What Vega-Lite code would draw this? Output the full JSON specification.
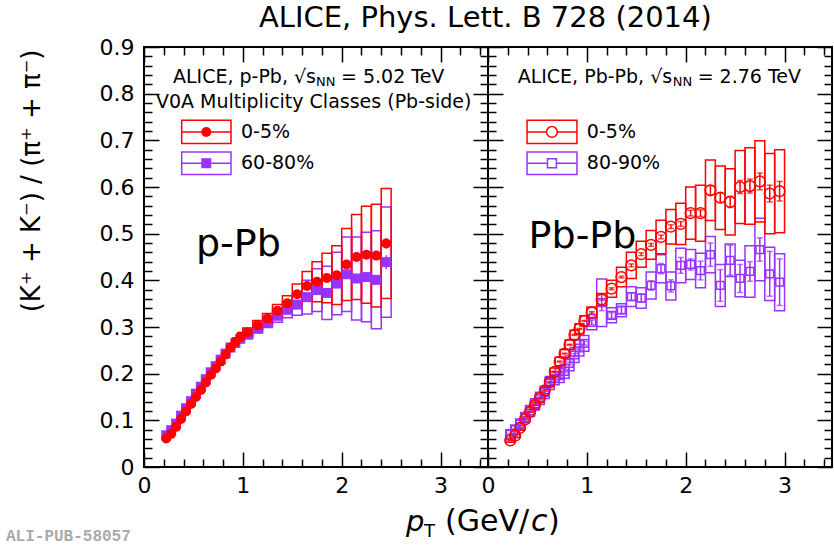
{
  "$schema": "https://vega.github.io/schema/vega-lite/v6.json",
  "background": "white",
  "padding": {"left": 5, "top": 4, "right": 0, "bottom": 0},
  "title": {"text": "ALICE, Phys. Lett. B 728 (2014)", "font": "DejaVu Sans", "fontSize": 29, "fontWeight": "normal", "color": "black", "anchor": "middle", "frame": "bounds", "dx": 66, "offset": 2},
  "spacing": 0,
  "bounds": "flush",
  "datasets": {
    "pPb": [
      {"cls":"60-80%","pt":0.225,"lo":0.2,"hi":0.25,"y":0.068,"stat":0.001,"ylo":0.065,"yhi":0.071},
      {"cls":"60-80%","pt":0.275,"lo":0.25,"hi":0.3,"y":0.079,"stat":0.001,"ylo":0.076,"yhi":0.082},
      {"cls":"60-80%","pt":0.325,"lo":0.3,"hi":0.35,"y":0.093,"stat":0.001,"ylo":0.089,"yhi":0.097},
      {"cls":"60-80%","pt":0.375,"lo":0.35,"hi":0.4,"y":0.110,"stat":0.001,"ylo":0.106,"yhi":0.114},
      {"cls":"60-80%","pt":0.425,"lo":0.4,"hi":0.45,"y":0.126,"stat":0.001,"ylo":0.121,"yhi":0.131},
      {"cls":"60-80%","pt":0.475,"lo":0.45,"hi":0.5,"y":0.141,"stat":0.001,"ylo":0.136,"yhi":0.146},
      {"cls":"60-80%","pt":0.525,"lo":0.5,"hi":0.55,"y":0.157,"stat":0.001,"ylo":0.151,"yhi":0.163},
      {"cls":"60-80%","pt":0.575,"lo":0.55,"hi":0.6,"y":0.172,"stat":0.001,"ylo":0.166,"yhi":0.178},
      {"cls":"60-80%","pt":0.625,"lo":0.6,"hi":0.65,"y":0.188,"stat":0.001,"ylo":0.181,"yhi":0.195},
      {"cls":"60-80%","pt":0.675,"lo":0.65,"hi":0.7,"y":0.203,"stat":0.001,"ylo":0.196,"yhi":0.210},
      {"cls":"60-80%","pt":0.725,"lo":0.7,"hi":0.75,"y":0.216,"stat":0.001,"ylo":0.209,"yhi":0.223},
      {"cls":"60-80%","pt":0.775,"lo":0.75,"hi":0.8,"y":0.230,"stat":0.001,"ylo":0.222,"yhi":0.238},
      {"cls":"60-80%","pt":0.825,"lo":0.8,"hi":0.85,"y":0.243,"stat":0.001,"ylo":0.235,"yhi":0.251},
      {"cls":"60-80%","pt":0.875,"lo":0.85,"hi":0.9,"y":0.256,"stat":0.001,"ylo":0.248,"yhi":0.264},
      {"cls":"60-80%","pt":0.925,"lo":0.9,"hi":0.95,"y":0.266,"stat":0.001,"ylo":0.257,"yhi":0.275},
      {"cls":"60-80%","pt":0.975,"lo":0.95,"hi":1.0,"y":0.275,"stat":0.001,"ylo":0.266,"yhi":0.284},
      {"cls":"60-80%","pt":1.05,"lo":1.0,"hi":1.1,"y":0.284,"stat":0.002,"ylo":0.275,"yhi":0.293},
      {"cls":"60-80%","pt":1.15,"lo":1.1,"hi":1.2,"y":0.297,"stat":0.002,"ylo":0.287,"yhi":0.307},
      {"cls":"60-80%","pt":1.25,"lo":1.2,"hi":1.3,"y":0.310,"stat":0.002,"ylo":0.299,"yhi":0.321},
      {"cls":"60-80%","pt":1.35,"lo":1.3,"hi":1.4,"y":0.324,"stat":0.002,"ylo":0.310,"yhi":0.338},
      {"cls":"60-80%","pt":1.45,"lo":1.4,"hi":1.5,"y":0.337,"stat":0.003,"ylo":0.320,"yhi":0.354},
      {"cls":"60-80%","pt":1.55,"lo":1.5,"hi":1.6,"y":0.348,"stat":0.003,"ylo":0.325,"yhi":0.371},
      {"cls":"60-80%","pt":1.65,"lo":1.6,"hi":1.7,"y":0.364,"stat":0.003,"ylo":0.328,"yhi":0.400},
      {"cls":"60-80%","pt":1.75,"lo":1.7,"hi":1.8,"y":0.379,"stat":0.004,"ylo":0.333,"yhi":0.425},
      {"cls":"60-80%","pt":1.85,"lo":1.8,"hi":1.9,"y":0.373,"stat":0.004,"ylo":0.316,"yhi":0.430},
      {"cls":"60-80%","pt":1.95,"lo":1.9,"hi":2.0,"y":0.393,"stat":0.005,"ylo":0.326,"yhi":0.460},
      {"cls":"60-80%","pt":2.05,"lo":2.0,"hi":2.1,"y":0.413,"stat":0.006,"ylo":0.333,"yhi":0.493},
      {"cls":"60-80%","pt":2.15,"lo":2.1,"hi":2.2,"y":0.404,"stat":0.007,"ylo":0.315,"yhi":0.493},
      {"cls":"60-80%","pt":2.25,"lo":2.2,"hi":2.3,"y":0.407,"stat":0.008,"ylo":0.311,"yhi":0.503},
      {"cls":"60-80%","pt":2.35,"lo":2.3,"hi":2.4,"y":0.401,"stat":0.010,"ylo":0.296,"yhi":0.506},
      {"cls":"60-80%","pt":2.45,"lo":2.4,"hi":2.5,"y":0.439,"stat":0.015,"ylo":0.321,"yhi":0.557},
      {"cls":"0-5%","pt":0.225,"lo":0.2,"hi":0.25,"y":0.061,"stat":0.001,"ylo":0.058,"yhi":0.064},
      {"cls":"0-5%","pt":0.275,"lo":0.25,"hi":0.3,"y":0.071,"stat":0.001,"ylo":0.068,"yhi":0.074},
      {"cls":"0-5%","pt":0.325,"lo":0.3,"hi":0.35,"y":0.086,"stat":0.001,"ylo":0.082,"yhi":0.090},
      {"cls":"0-5%","pt":0.375,"lo":0.35,"hi":0.4,"y":0.103,"stat":0.001,"ylo":0.099,"yhi":0.107},
      {"cls":"0-5%","pt":0.425,"lo":0.4,"hi":0.45,"y":0.119,"stat":0.001,"ylo":0.114,"yhi":0.124},
      {"cls":"0-5%","pt":0.475,"lo":0.45,"hi":0.5,"y":0.135,"stat":0.001,"ylo":0.130,"yhi":0.140},
      {"cls":"0-5%","pt":0.525,"lo":0.5,"hi":0.55,"y":0.150,"stat":0.001,"ylo":0.144,"yhi":0.156},
      {"cls":"0-5%","pt":0.575,"lo":0.55,"hi":0.6,"y":0.165,"stat":0.001,"ylo":0.159,"yhi":0.171},
      {"cls":"0-5%","pt":0.625,"lo":0.6,"hi":0.65,"y":0.181,"stat":0.001,"ylo":0.174,"yhi":0.188},
      {"cls":"0-5%","pt":0.675,"lo":0.65,"hi":0.7,"y":0.197,"stat":0.001,"ylo":0.190,"yhi":0.204},
      {"cls":"0-5%","pt":0.725,"lo":0.7,"hi":0.75,"y":0.211,"stat":0.001,"ylo":0.204,"yhi":0.218},
      {"cls":"0-5%","pt":0.775,"lo":0.75,"hi":0.8,"y":0.226,"stat":0.001,"ylo":0.218,"yhi":0.234},
      {"cls":"0-5%","pt":0.825,"lo":0.8,"hi":0.85,"y":0.241,"stat":0.001,"ylo":0.233,"yhi":0.249},
      {"cls":"0-5%","pt":0.875,"lo":0.85,"hi":0.9,"y":0.256,"stat":0.001,"ylo":0.248,"yhi":0.264},
      {"cls":"0-5%","pt":0.925,"lo":0.9,"hi":0.95,"y":0.268,"stat":0.001,"ylo":0.259,"yhi":0.277},
      {"cls":"0-5%","pt":0.975,"lo":0.95,"hi":1.0,"y":0.279,"stat":0.001,"ylo":0.270,"yhi":0.288},
      {"cls":"0-5%","pt":1.05,"lo":1.0,"hi":1.1,"y":0.289,"stat":0.001,"ylo":0.280,"yhi":0.298},
      {"cls":"0-5%","pt":1.15,"lo":1.1,"hi":1.2,"y":0.304,"stat":0.001,"ylo":0.294,"yhi":0.314},
      {"cls":"0-5%","pt":1.25,"lo":1.2,"hi":1.3,"y":0.318,"stat":0.002,"ylo":0.307,"yhi":0.329},
      {"cls":"0-5%","pt":1.35,"lo":1.3,"hi":1.4,"y":0.335,"stat":0.002,"ylo":0.322,"yhi":0.348},
      {"cls":"0-5%","pt":1.45,"lo":1.4,"hi":1.5,"y":0.351,"stat":0.002,"ylo":0.335,"yhi":0.367},
      {"cls":"0-5%","pt":1.55,"lo":1.5,"hi":1.6,"y":0.370,"stat":0.002,"ylo":0.348,"yhi":0.392},
      {"cls":"0-5%","pt":1.65,"lo":1.6,"hi":1.7,"y":0.388,"stat":0.002,"ylo":0.357,"yhi":0.419},
      {"cls":"0-5%","pt":1.75,"lo":1.7,"hi":1.8,"y":0.397,"stat":0.002,"ylo":0.354,"yhi":0.440},
      {"cls":"0-5%","pt":1.85,"lo":1.8,"hi":1.9,"y":0.405,"stat":0.003,"ylo":0.352,"yhi":0.458},
      {"cls":"0-5%","pt":1.95,"lo":1.9,"hi":2.0,"y":0.411,"stat":0.003,"ylo":0.348,"yhi":0.474},
      {"cls":"0-5%","pt":2.05,"lo":2.0,"hi":2.1,"y":0.434,"stat":0.003,"ylo":0.357,"yhi":0.511},
      {"cls":"0-5%","pt":2.15,"lo":2.1,"hi":2.2,"y":0.450,"stat":0.004,"ylo":0.359,"yhi":0.541},
      {"cls":"0-5%","pt":2.25,"lo":2.2,"hi":2.3,"y":0.455,"stat":0.005,"ylo":0.351,"yhi":0.559},
      {"cls":"0-5%","pt":2.35,"lo":2.3,"hi":2.4,"y":0.453,"stat":0.006,"ylo":0.343,"yhi":0.563},
      {"cls":"0-5%","pt":2.45,"lo":2.4,"hi":2.5,"y":0.479,"stat":0.011,"ylo":0.361,"yhi":0.597}
    ],
    "PbPb": [
      {"cls":"80-90%","pt":0.225,"lo":0.18,"hi":0.27,"y":0.070,"stat":0.002,"ylo":0.060,"yhi":0.080},
      {"cls":"80-90%","pt":0.275,"lo":0.23,"hi":0.32,"y":0.080,"stat":0.002,"ylo":0.070,"yhi":0.090},
      {"cls":"80-90%","pt":0.325,"lo":0.28,"hi":0.37,"y":0.092,"stat":0.002,"ylo":0.081,"yhi":0.103},
      {"cls":"80-90%","pt":0.375,"lo":0.33,"hi":0.42,"y":0.106,"stat":0.002,"ylo":0.095,"yhi":0.117},
      {"cls":"80-90%","pt":0.425,"lo":0.38,"hi":0.47,"y":0.120,"stat":0.002,"ylo":0.108,"yhi":0.132},
      {"cls":"80-90%","pt":0.475,"lo":0.43,"hi":0.52,"y":0.134,"stat":0.002,"ylo":0.122,"yhi":0.146},
      {"cls":"80-90%","pt":0.525,"lo":0.48,"hi":0.57,"y":0.147,"stat":0.002,"ylo":0.134,"yhi":0.160},
      {"cls":"80-90%","pt":0.575,"lo":0.53,"hi":0.62,"y":0.160,"stat":0.002,"ylo":0.147,"yhi":0.173},
      {"cls":"80-90%","pt":0.625,"lo":0.58,"hi":0.67,"y":0.180,"stat":0.002,"ylo":0.166,"yhi":0.194},
      {"cls":"80-90%","pt":0.675,"lo":0.63,"hi":0.72,"y":0.190,"stat":0.003,"ylo":0.176,"yhi":0.204},
      {"cls":"80-90%","pt":0.725,"lo":0.68,"hi":0.77,"y":0.196,"stat":0.003,"ylo":0.181,"yhi":0.211},
      {"cls":"80-90%","pt":0.775,"lo":0.73,"hi":0.82,"y":0.205,"stat":0.003,"ylo":0.190,"yhi":0.220},
      {"cls":"80-90%","pt":0.825,"lo":0.78,"hi":0.87,"y":0.222,"stat":0.003,"ylo":0.206,"yhi":0.238},
      {"cls":"80-90%","pt":0.875,"lo":0.83,"hi":0.92,"y":0.240,"stat":0.003,"ylo":0.224,"yhi":0.256},
      {"cls":"80-90%","pt":0.925,"lo":0.88,"hi":0.97,"y":0.255,"stat":0.003,"ylo":0.238,"yhi":0.272},
      {"cls":"80-90%","pt":0.975,"lo":0.93,"hi":1.02,"y":0.265,"stat":0.004,"ylo":0.248,"yhi":0.282},
      {"cls":"80-90%","pt":1.05,"lo":1.0,"hi":1.1,"y":0.310,"stat":0.005,"ylo":0.294,"yhi":0.326},
      {"cls":"80-90%","pt":1.15,"lo":1.1,"hi":1.2,"y":0.352,"stat":0.017,"ylo":0.301,"yhi":0.403},
      {"cls":"80-90%","pt":1.25,"lo":1.2,"hi":1.3,"y":0.325,"stat":0.006,"ylo":0.309,"yhi":0.341},
      {"cls":"80-90%","pt":1.35,"lo":1.3,"hi":1.4,"y":0.336,"stat":0.007,"ylo":0.322,"yhi":0.350},
      {"cls":"80-90%","pt":1.45,"lo":1.4,"hi":1.5,"y":0.365,"stat":0.008,"ylo":0.344,"yhi":0.386},
      {"cls":"80-90%","pt":1.55,"lo":1.5,"hi":1.6,"y":0.362,"stat":0.009,"ylo":0.340,"yhi":0.384},
      {"cls":"80-90%","pt":1.65,"lo":1.6,"hi":1.7,"y":0.389,"stat":0.010,"ylo":0.360,"yhi":0.418},
      {"cls":"80-90%","pt":1.75,"lo":1.7,"hi":1.8,"y":0.425,"stat":0.011,"ylo":0.395,"yhi":0.455},
      {"cls":"80-90%","pt":1.85,"lo":1.8,"hi":1.9,"y":0.388,"stat":0.013,"ylo":0.358,"yhi":0.418},
      {"cls":"80-90%","pt":1.95,"lo":1.9,"hi":2.0,"y":0.432,"stat":0.017,"ylo":0.395,"yhi":0.469},
      {"cls":"80-90%","pt":2.05,"lo":2.0,"hi":2.1,"y":0.434,"stat":0.012,"ylo":0.402,"yhi":0.466},
      {"cls":"80-90%","pt":2.15,"lo":2.1,"hi":2.2,"y":0.421,"stat":0.020,"ylo":0.384,"yhi":0.458},
      {"cls":"80-90%","pt":2.25,"lo":2.2,"hi":2.3,"y":0.455,"stat":0.025,"ylo":0.416,"yhi":0.494},
      {"cls":"80-90%","pt":2.35,"lo":2.3,"hi":2.4,"y":0.389,"stat":0.034,"ylo":0.344,"yhi":0.434},
      {"cls":"80-90%","pt":2.45,"lo":2.4,"hi":2.5,"y":0.443,"stat":0.032,"ylo":0.408,"yhi":0.478},
      {"cls":"80-90%","pt":2.55,"lo":2.5,"hi":2.6,"y":0.404,"stat":0.030,"ylo":0.365,"yhi":0.443},
      {"cls":"80-90%","pt":2.65,"lo":2.6,"hi":2.7,"y":0.419,"stat":0.021,"ylo":0.364,"yhi":0.474},
      {"cls":"80-90%","pt":2.75,"lo":2.7,"hi":2.8,"y":0.466,"stat":0.025,"ylo":0.399,"yhi":0.533},
      {"cls":"80-90%","pt":2.85,"lo":2.8,"hi":2.9,"y":0.414,"stat":0.048,"ylo":0.357,"yhi":0.471},
      {"cls":"80-90%","pt":2.95,"lo":2.9,"hi":3.0,"y":0.396,"stat":0.050,"ylo":0.335,"yhi":0.457},
      {"cls":"0-5%","pt":0.225,"lo":0.18,"hi":0.27,"y":0.057,"stat":0.001,"ylo":0.053,"yhi":0.061},
      {"cls":"0-5%","pt":0.275,"lo":0.23,"hi":0.32,"y":0.067,"stat":0.001,"ylo":0.063,"yhi":0.071},
      {"cls":"0-5%","pt":0.325,"lo":0.28,"hi":0.37,"y":0.084,"stat":0.001,"ylo":0.079,"yhi":0.089},
      {"cls":"0-5%","pt":0.375,"lo":0.33,"hi":0.42,"y":0.102,"stat":0.001,"ylo":0.097,"yhi":0.107},
      {"cls":"0-5%","pt":0.425,"lo":0.38,"hi":0.47,"y":0.118,"stat":0.001,"ylo":0.112,"yhi":0.124},
      {"cls":"0-5%","pt":0.475,"lo":0.43,"hi":0.52,"y":0.133,"stat":0.001,"ylo":0.127,"yhi":0.139},
      {"cls":"0-5%","pt":0.525,"lo":0.48,"hi":0.57,"y":0.148,"stat":0.001,"ylo":0.141,"yhi":0.155},
      {"cls":"0-5%","pt":0.575,"lo":0.53,"hi":0.62,"y":0.164,"stat":0.001,"ylo":0.157,"yhi":0.171},
      {"cls":"0-5%","pt":0.625,"lo":0.58,"hi":0.67,"y":0.182,"stat":0.001,"ylo":0.174,"yhi":0.190},
      {"cls":"0-5%","pt":0.675,"lo":0.63,"hi":0.72,"y":0.204,"stat":0.001,"ylo":0.196,"yhi":0.212},
      {"cls":"0-5%","pt":0.725,"lo":0.68,"hi":0.77,"y":0.226,"stat":0.001,"ylo":0.217,"yhi":0.235},
      {"cls":"0-5%","pt":0.775,"lo":0.73,"hi":0.82,"y":0.243,"stat":0.001,"ylo":0.234,"yhi":0.252},
      {"cls":"0-5%","pt":0.825,"lo":0.78,"hi":0.87,"y":0.262,"stat":0.001,"ylo":0.252,"yhi":0.272},
      {"cls":"0-5%","pt":0.875,"lo":0.83,"hi":0.92,"y":0.283,"stat":0.001,"ylo":0.273,"yhi":0.293},
      {"cls":"0-5%","pt":0.925,"lo":0.88,"hi":0.97,"y":0.296,"stat":0.001,"ylo":0.285,"yhi":0.307},
      {"cls":"0-5%","pt":0.975,"lo":0.93,"hi":1.02,"y":0.313,"stat":0.001,"ylo":0.302,"yhi":0.324},
      {"cls":"0-5%","pt":1.05,"lo":1.0,"hi":1.1,"y":0.331,"stat":0.002,"ylo":0.319,"yhi":0.343},
      {"cls":"0-5%","pt":1.15,"lo":1.1,"hi":1.2,"y":0.359,"stat":0.002,"ylo":0.346,"yhi":0.372},
      {"cls":"0-5%","pt":1.25,"lo":1.2,"hi":1.3,"y":0.382,"stat":0.002,"ylo":0.364,"yhi":0.400},
      {"cls":"0-5%","pt":1.35,"lo":1.3,"hi":1.4,"y":0.407,"stat":0.002,"ylo":0.386,"yhi":0.428},
      {"cls":"0-5%","pt":1.45,"lo":1.4,"hi":1.5,"y":0.432,"stat":0.003,"ylo":0.404,"yhi":0.460},
      {"cls":"0-5%","pt":1.55,"lo":1.5,"hi":1.6,"y":0.456,"stat":0.003,"ylo":0.428,"yhi":0.484},
      {"cls":"0-5%","pt":1.65,"lo":1.6,"hi":1.7,"y":0.476,"stat":0.003,"ylo":0.445,"yhi":0.507},
      {"cls":"0-5%","pt":1.75,"lo":1.7,"hi":1.8,"y":0.493,"stat":0.004,"ylo":0.457,"yhi":0.529},
      {"cls":"0-5%","pt":1.85,"lo":1.8,"hi":1.9,"y":0.515,"stat":0.004,"ylo":0.478,"yhi":0.552},
      {"cls":"0-5%","pt":1.95,"lo":1.9,"hi":2.0,"y":0.521,"stat":0.005,"ylo":0.477,"yhi":0.565},
      {"cls":"0-5%","pt":2.05,"lo":2.0,"hi":2.1,"y":0.544,"stat":0.006,"ylo":0.488,"yhi":0.600},
      {"cls":"0-5%","pt":2.15,"lo":2.1,"hi":2.2,"y":0.544,"stat":0.007,"ylo":0.484,"yhi":0.604},
      {"cls":"0-5%","pt":2.25,"lo":2.2,"hi":2.3,"y":0.593,"stat":0.010,"ylo":0.528,"yhi":0.658},
      {"cls":"0-5%","pt":2.35,"lo":2.3,"hi":2.4,"y":0.577,"stat":0.010,"ylo":0.509,"yhi":0.645},
      {"cls":"0-5%","pt":2.45,"lo":2.4,"hi":2.5,"y":0.568,"stat":0.012,"ylo":0.497,"yhi":0.639},
      {"cls":"0-5%","pt":2.55,"lo":2.5,"hi":2.6,"y":0.600,"stat":0.014,"ylo":0.522,"yhi":0.678},
      {"cls":"0-5%","pt":2.65,"lo":2.6,"hi":2.7,"y":0.602,"stat":0.015,"ylo":0.520,"yhi":0.684},
      {"cls":"0-5%","pt":2.75,"lo":2.7,"hi":2.8,"y":0.612,"stat":0.018,"ylo":0.525,"yhi":0.699},
      {"cls":"0-5%","pt":2.85,"lo":2.8,"hi":2.9,"y":0.586,"stat":0.018,"ylo":0.500,"yhi":0.672},
      {"cls":"0-5%","pt":2.95,"lo":2.9,"hi":3.0,"y":0.591,"stat":0.021,"ylo":0.502,"yhi":0.680}
    ],
    "one": [{}]
  },
  "hconcat": [
    {
      "width": 344,
      "height": 420,
      "resolve": {"axis": {"x": "independent", "y": "independent"}},
      "layer": [
        {
          "data": {"name": "pPb"},
          "mark": {"type": "rect", "filled": false, "strokeWidth": 1.5},
          "encoding": {
            "x": {"field": "lo", "type": "quantitative", "scale": {"domain": [0, 3.48], "nice": false, "zero": false},
              "axis": {"orient": "bottom", "values": [0,0.2,0.4,0.6,0.8,1,1.2,1.4,1.6,1.8,2,2.2,2.4,2.6,2.8,3,3.2,3.4], "tickSize": {"condition": {"test": "abs(datum.value - round(datum.value)) < 0.001", "value": -15}, "value": -8}, "tickWidth": 1.5, "tickColor": "black", "domain": false, "grid": false, "labelExpr": "abs(datum.value - round(datum.value)) < 0.001 ? format(datum.value, 'd') : ''", "labelFont": "DejaVu Sans", "labelFontSize": 22, "labelColor": "black", "labelPadding": 23, "labelFlush": false, "labelOverlap": false, "labelBound": false, "title": null}},
            "x2": {"field": "hi"},
            "y": {"field": "ylo", "type": "quantitative", "scale": {"domain": [0, 0.9], "nice": false, "zero": false},
              "axis": {"orient": "left", "values": [0,0.02,0.04,0.06,0.08,0.1,0.12,0.14,0.16,0.18,0.2,0.22,0.24,0.26,0.28,0.3,0.32,0.34,0.36,0.38,0.4,0.42,0.44,0.46,0.48,0.5,0.52,0.54,0.56,0.58,0.6,0.62,0.64,0.66,0.68,0.7,0.72,0.74,0.76,0.78,0.8,0.82,0.84,0.86,0.88,0.9], "tickSize": {"condition": {"test": "abs(datum.value*10 - round(datum.value*10)) < 0.001", "value": -15}, "value": -8}, "tickWidth": 1.5, "tickColor": "black", "domain": false, "grid": false, "labelExpr": "abs(datum.value*10 - round(datum.value*10)) < 0.001 ? (datum.value == 0 ? '0' : format(datum.value, '.1f')) : ''", "labelFont": "DejaVu Sans", "labelFontSize": 22, "labelColor": "black", "labelPadding": 25, "labelFlush": false, "labelOverlap": false, "labelBound": false,
                "title": "(K⁺ + K⁻) / (π⁺ + π⁻)", "titleFont": "DejaVu Sans", "titleFontSize": 26, "titleFontWeight": "normal", "titleColor": "black", "titleX": -113, "titleY": 2, "titleAngle": -90, "titleAlign": "right", "titleBaseline": "middle"}},
            "y2": {"field": "yhi"},
            "color": {"field": "cls", "type": "nominal", "scale": {"domain": ["0-5%", "60-80%", "80-90%"], "range": ["#ff0000", "#9933ff", "#9933ff"]}, "legend": null}
          }
        },
        {
          "data": {"name": "pPb"},
          "mark": {"type": "errorbar", "ticks": false, "thickness": 1.5},
          "encoding": {
            "x": {"field": "pt", "type": "quantitative", "axis": null},
            "y": {"field": "y", "type": "quantitative", "axis": null},
            "yError": {"field": "stat"},
            "color": {"field": "cls", "type": "nominal", "legend": null}
          }
        },
        {
          "data": {"name": "pPb"},
          "mark": {"type": "point", "filled": true, "opacity": 1, "size": 100},
          "encoding": {
            "x": {"field": "pt", "type": "quantitative", "scale": {"domain": [0, 3.48], "nice": false, "zero": false},
              "axis": {"orient": "top", "values": [0,0.2,0.4,0.6,0.8,1,1.2,1.4,1.6,1.8,2,2.2,2.4,2.6,2.8,3,3.2,3.4], "tickSize": {"condition": {"test": "abs(datum.value - round(datum.value)) < 0.001", "value": -15}, "value": -8}, "tickWidth": 1.5, "tickColor": "black", "domain": false, "grid": false, "labels": false, "title": null}},
            "y": {"field": "y", "type": "quantitative", "scale": {"domain": [0, 0.9], "nice": false, "zero": false},
              "axis": {"orient": "right", "values": [0,0.02,0.04,0.06,0.08,0.1,0.12,0.14,0.16,0.18,0.2,0.22,0.24,0.26,0.28,0.3,0.32,0.34,0.36,0.38,0.4,0.42,0.44,0.46,0.48,0.5,0.52,0.54,0.56,0.58,0.6,0.62,0.64,0.66,0.68,0.7,0.72,0.74,0.76,0.78,0.8,0.82,0.84,0.86,0.88,0.9], "tickSize": {"condition": {"test": "abs(datum.value*10 - round(datum.value*10)) < 0.001", "value": -15}, "value": -8}, "tickWidth": 1.5, "tickColor": "black", "domain": false, "grid": false, "labels": false, "title": null}},
            "color": {"field": "cls", "type": "nominal", "legend": null},
            "shape": {"field": "cls", "type": "nominal", "scale": {"domain": ["0-5%", "60-80%", "80-90%"], "range": ["circle", "square", "square"]}, "legend": null}
          }
        },
        {"data": {"name": "one"}, "mark": {"type": "text", "text": "ALICE, p-Pb, √s", "font": "DejaVu Sans", "fontSize": 19, "align": "left", "baseline": "middle", "color": "black"},
          "encoding": {"x": {"datum": 0.293, "type": "quantitative", "axis": null}, "y": {"datum": 0.836, "type": "quantitative", "axis": null}}},
        {"data": {"name": "one"}, "mark": {"type": "text", "text": "NN", "font": "DejaVu Sans", "fontSize": 13, "align": "left", "baseline": "middle", "dx": 143, "dy": 5, "color": "black"},
          "encoding": {"x": {"datum": 0.293, "type": "quantitative", "axis": null}, "y": {"datum": 0.836, "type": "quantitative", "axis": null}}},
        {"data": {"name": "one"}, "mark": {"type": "text", "text": "= 5.02 TeV", "font": "DejaVu Sans", "fontSize": 19, "align": "left", "baseline": "middle", "dx": 168, "color": "black"},
          "encoding": {"x": {"datum": 0.293, "type": "quantitative", "axis": null}, "y": {"datum": 0.836, "type": "quantitative", "axis": null}}},
        {"data": {"name": "one"}, "mark": {"type": "text", "text": "V0A Multiplicity Classes (Pb-side)", "font": "DejaVu Sans", "fontSize": 19, "align": "left", "baseline": "middle", "color": "black"},
          "encoding": {"x": {"datum": 0.121, "type": "quantitative", "axis": null}, "y": {"datum": 0.782, "type": "quantitative", "axis": null}}},
        {"data": {"name": "one"}, "mark": {"type": "rect", "filled": false, "stroke": "#ff0000", "strokeWidth": 1.5},
          "encoding": {"x": {"datum": 0.381, "type": "quantitative", "axis": null}, "x2": {"datum": 0.88}, "y": {"datum": 0.743, "type": "quantitative", "axis": null}, "y2": {"datum": 0.693}}},
        {"data": {"name": "one"}, "mark": {"type": "rule", "color": "#ff0000", "strokeWidth": 1.5},
          "encoding": {"x": {"datum": 0.381, "type": "quantitative", "axis": null}, "x2": {"datum": 0.88}, "y": {"datum": 0.718, "type": "quantitative", "axis": null}}},
        {"data": {"name": "one"}, "mark": {"type": "point", "shape": "circle", "filled": true, "opacity": 1, "size": 100, "color": "#ff0000"},
          "encoding": {"x": {"datum": 0.63, "type": "quantitative", "axis": null}, "y": {"datum": 0.718, "type": "quantitative", "axis": null}}},
        {"data": {"name": "one"}, "mark": {"type": "text", "text": "0-5%", "font": "DejaVu Sans", "fontSize": 19, "align": "left", "baseline": "middle", "color": "black"},
          "encoding": {"x": {"datum": 0.981, "type": "quantitative", "axis": null}, "y": {"datum": 0.718, "type": "quantitative", "axis": null}}},
        {"data": {"name": "one"}, "mark": {"type": "rect", "filled": false, "stroke": "#9933ff", "strokeWidth": 1.5},
          "encoding": {"x": {"datum": 0.381, "type": "quantitative", "axis": null}, "x2": {"datum": 0.88}, "y": {"datum": 0.675, "type": "quantitative", "axis": null}, "y2": {"datum": 0.627}}},
        {"data": {"name": "one"}, "mark": {"type": "rule", "color": "#9933ff", "strokeWidth": 1.5},
          "encoding": {"x": {"datum": 0.381, "type": "quantitative", "axis": null}, "x2": {"datum": 0.88}, "y": {"datum": 0.651, "type": "quantitative", "axis": null}}},
        {"data": {"name": "one"}, "mark": {"type": "point", "shape": "square", "filled": true, "opacity": 1, "size": 100, "color": "#9933ff"},
          "encoding": {"x": {"datum": 0.63, "type": "quantitative", "axis": null}, "y": {"datum": 0.651, "type": "quantitative", "axis": null}}},
        {"data": {"name": "one"}, "mark": {"type": "text", "text": "60-80%", "font": "DejaVu Sans", "fontSize": 19, "align": "left", "baseline": "middle", "color": "black"},
          "encoding": {"x": {"datum": 0.981, "type": "quantitative", "axis": null}, "y": {"datum": 0.651, "type": "quantitative", "axis": null}}},
        {"data": {"name": "one"}, "mark": {"type": "text", "text": "p-Pb", "font": "DejaVu Sans", "fontSize": 38, "align": "center", "baseline": "alphabetic", "color": "black"},
          "encoding": {"x": {"datum": 0.955, "type": "quantitative", "axis": null}, "y": {"datum": 0.452, "type": "quantitative", "axis": null}}},
        {"data": {"name": "one"}, "mark": {"type": "text", "text": "ALI-PUB-58057", "font": "Liberation Mono", "fontSize": 16, "fontWeight": "bold", "align": "left", "baseline": "middle", "color": "#aaaaaa"},
          "encoding": {"x": {"datum": -1.396, "type": "quantitative", "axis": null}, "y": {"datum": -0.148, "type": "quantitative", "axis": null}}}
      ]
    },
    {
      "width": 344,
      "height": 420,
      "resolve": {"axis": {"x": "independent", "y": "independent"}},
      "layer": [
        {
          "data": {"name": "PbPb"},
          "mark": {"type": "rect", "filled": false, "strokeWidth": 1.5},
          "encoding": {
            "x": {"field": "lo", "type": "quantitative", "scale": {"domain": [0, 3.48], "nice": false, "zero": false},
              "axis": {"orient": "bottom", "values": [0,0.2,0.4,0.6,0.8,1,1.2,1.4,1.6,1.8,2,2.2,2.4,2.6,2.8,3,3.2,3.4], "tickSize": {"condition": {"test": "abs(datum.value - round(datum.value)) < 0.001", "value": -15}, "value": -8}, "tickWidth": 1.5, "tickColor": "black", "domain": false, "grid": false, "labelExpr": "abs(datum.value - round(datum.value)) < 0.001 ? format(datum.value, 'd') : ''", "labelFont": "DejaVu Sans", "labelFontSize": 22, "labelColor": "black", "labelPadding": 23, "labelFlush": false, "labelOverlap": false, "labelBound": false, "title": null}},
            "x2": {"field": "hi"},
            "y": {"field": "ylo", "type": "quantitative", "scale": {"domain": [0, 0.9], "nice": false, "zero": false},
              "axis": {"orient": "left", "values": [0,0.02,0.04,0.06,0.08,0.1,0.12,0.14,0.16,0.18,0.2,0.22,0.24,0.26,0.28,0.3,0.32,0.34,0.36,0.38,0.4,0.42,0.44,0.46,0.48,0.5,0.52,0.54,0.56,0.58,0.6,0.62,0.64,0.66,0.68,0.7,0.72,0.74,0.76,0.78,0.8,0.82,0.84,0.86,0.88,0.9], "tickSize": {"condition": {"test": "abs(datum.value*10 - round(datum.value*10)) < 0.001", "value": -15}, "value": -8}, "tickWidth": 1.5, "tickColor": "black", "domain": false, "grid": false, "labels": false, "title": null}},
            "y2": {"field": "yhi"},
            "color": {"field": "cls", "type": "nominal", "scale": {"domain": ["0-5%", "60-80%", "80-90%"], "range": ["#ff0000", "#9933ff", "#9933ff"]}, "legend": null}
          }
        },
        {
          "data": {"name": "PbPb"},
          "mark": {"type": "errorbar", "ticks": {"size": 6, "thickness": 1.5}, "thickness": 1.5},
          "encoding": {
            "x": {"field": "pt", "type": "quantitative", "axis": null},
            "y": {"field": "y", "type": "quantitative", "axis": null},
            "yError": {"field": "stat"},
            "color": {"field": "cls", "type": "nominal", "legend": null}
          }
        },
        {
          "data": {"name": "PbPb"},
          "mark": {"type": "point", "filled": false, "opacity": 1, "strokeWidth": 1.5},
          "encoding": {
            "x": {"field": "pt", "type": "quantitative", "scale": {"domain": [0, 3.48], "nice": false, "zero": false},
              "axis": {"orient": "top", "values": [0,0.2,0.4,0.6,0.8,1,1.2,1.4,1.6,1.8,2,2.2,2.4,2.6,2.8,3,3.2,3.4], "tickSize": {"condition": {"test": "abs(datum.value - round(datum.value)) < 0.001", "value": -15}, "value": -8}, "tickWidth": 1.5, "tickColor": "black", "domain": false, "grid": false, "labels": false, "title": null}},
            "y": {"field": "y", "type": "quantitative", "scale": {"domain": [0, 0.9], "nice": false, "zero": false},
              "axis": {"orient": "right", "values": [0,0.02,0.04,0.06,0.08,0.1,0.12,0.14,0.16,0.18,0.2,0.22,0.24,0.26,0.28,0.3,0.32,0.34,0.36,0.38,0.4,0.42,0.44,0.46,0.48,0.5,0.52,0.54,0.56,0.58,0.6,0.62,0.64,0.66,0.68,0.7,0.72,0.74,0.76,0.78,0.8,0.82,0.84,0.86,0.88,0.9], "tickSize": {"condition": {"test": "abs(datum.value*10 - round(datum.value*10)) < 0.001", "value": -15}, "value": -8}, "tickWidth": 1.5, "tickColor": "black", "domain": false, "grid": false, "labels": false, "title": null}},
            "color": {"field": "cls", "type": "nominal", "legend": null},
            "shape": {"field": "cls", "type": "nominal", "scale": {"domain": ["0-5%", "60-80%", "80-90%"], "range": ["circle", "square", "square"]}, "legend": null},
            "size": {"field": "cls", "type": "nominal", "scale": {"domain": ["0-5%", "60-80%", "80-90%"], "range": [115, 60, 60]}, "legend": null}
          }
        },
        {"data": {"name": "one"}, "mark": {"type": "text", "text": "ALICE, Pb-Pb, √s", "font": "DejaVu Sans", "fontSize": 19, "align": "left", "baseline": "middle", "color": "black"},
          "encoding": {"x": {"datum": 0.3, "type": "quantitative", "axis": null}, "y": {"datum": 0.836, "type": "quantitative", "axis": null}}},
        {"data": {"name": "one"}, "mark": {"type": "text", "text": "NN", "font": "DejaVu Sans", "fontSize": 13, "align": "left", "baseline": "middle", "dx": 155, "dy": 5, "color": "black"},
          "encoding": {"x": {"datum": 0.3, "type": "quantitative", "axis": null}, "y": {"datum": 0.836, "type": "quantitative", "axis": null}}},
        {"data": {"name": "one"}, "mark": {"type": "text", "text": "= 2.76 TeV", "font": "DejaVu Sans", "fontSize": 19, "align": "left", "baseline": "middle", "dx": 180, "color": "black"},
          "encoding": {"x": {"datum": 0.3, "type": "quantitative", "axis": null}, "y": {"datum": 0.836, "type": "quantitative", "axis": null}}},
        {"data": {"name": "one"}, "mark": {"type": "rect", "filled": false, "stroke": "#ff0000", "strokeWidth": 1.5},
          "encoding": {"x": {"datum": 0.395, "type": "quantitative", "axis": null}, "x2": {"datum": 0.9}, "y": {"datum": 0.743, "type": "quantitative", "axis": null}, "y2": {"datum": 0.693}}},
        {"data": {"name": "one"}, "mark": {"type": "rule", "color": "#ff0000", "strokeWidth": 1.5},
          "encoding": {"x": {"datum": 0.395, "type": "quantitative", "axis": null}, "x2": {"datum": 0.9}, "y": {"datum": 0.718, "type": "quantitative", "axis": null}}},
        {"data": {"name": "one"}, "mark": {"type": "point", "shape": "circle", "filled": false, "opacity": 1, "size": 115, "strokeWidth": 1.5, "color": "#ff0000", "fill": "white"},
          "encoding": {"x": {"datum": 0.647, "type": "quantitative", "axis": null}, "y": {"datum": 0.718, "type": "quantitative", "axis": null}}},
        {"data": {"name": "one"}, "mark": {"type": "text", "text": "0-5%", "font": "DejaVu Sans", "fontSize": 19, "align": "left", "baseline": "middle", "color": "black"},
          "encoding": {"x": {"datum": 1.0, "type": "quantitative", "axis": null}, "y": {"datum": 0.718, "type": "quantitative", "axis": null}}},
        {"data": {"name": "one"}, "mark": {"type": "rect", "filled": false, "stroke": "#9933ff", "strokeWidth": 1.5},
          "encoding": {"x": {"datum": 0.395, "type": "quantitative", "axis": null}, "x2": {"datum": 0.9}, "y": {"datum": 0.675, "type": "quantitative", "axis": null}, "y2": {"datum": 0.627}}},
        {"data": {"name": "one"}, "mark": {"type": "rule", "color": "#9933ff", "strokeWidth": 1.5},
          "encoding": {"x": {"datum": 0.395, "type": "quantitative", "axis": null}, "x2": {"datum": 0.9}, "y": {"datum": 0.651, "type": "quantitative", "axis": null}}},
        {"data": {"name": "one"}, "mark": {"type": "point", "shape": "square", "filled": false, "opacity": 1, "size": 80, "strokeWidth": 1.5, "color": "#9933ff", "fill": "white"},
          "encoding": {"x": {"datum": 0.647, "type": "quantitative", "axis": null}, "y": {"datum": 0.651, "type": "quantitative", "axis": null}}},
        {"data": {"name": "one"}, "mark": {"type": "text", "text": "80-90%", "font": "DejaVu Sans", "fontSize": 19, "align": "left", "baseline": "middle", "color": "black"},
          "encoding": {"x": {"datum": 1.0, "type": "quantitative", "axis": null}, "y": {"datum": 0.651, "type": "quantitative", "axis": null}}},
        {"data": {"name": "one"}, "mark": {"type": "text", "text": "Pb-Pb", "font": "DejaVu Sans", "fontSize": 38, "align": "center", "baseline": "alphabetic", "color": "black"},
          "encoding": {"x": {"datum": 0.956, "type": "quantitative", "axis": null}, "y": {"datum": 0.47, "type": "quantitative", "axis": null}}},
        {"data": {"name": "one"}, "mark": {"type": "text", "text": "p", "font": "DejaVu Sans", "fontSize": 29, "fontStyle": "italic", "align": "left", "baseline": "middle", "dx": -82, "color": "black"},
          "encoding": {"x": {"datum": 0, "type": "quantitative", "axis": null}, "y": {"datum": -0.118, "type": "quantitative", "axis": null}}},
        {"data": {"name": "one"}, "mark": {"type": "text", "text": "T", "font": "DejaVu Sans", "fontSize": 18, "align": "left", "baseline": "middle", "dx": -64, "dy": 10, "color": "black"},
          "encoding": {"x": {"datum": 0, "type": "quantitative", "axis": null}, "y": {"datum": -0.118, "type": "quantitative", "axis": null}}},
        {"data": {"name": "one"}, "mark": {"type": "text", "text": "(GeV/", "font": "DejaVu Sans", "fontSize": 30, "align": "left", "baseline": "middle", "dx": -43, "color": "black"},
          "encoding": {"x": {"datum": 0, "type": "quantitative", "axis": null}, "y": {"datum": -0.118, "type": "quantitative", "axis": null}}},
        {"data": {"name": "one"}, "mark": {"type": "text", "text": "c", "font": "DejaVu Sans", "fontSize": 30, "fontStyle": "italic", "align": "left", "baseline": "middle", "dx": 43, "color": "black"},
          "encoding": {"x": {"datum": 0, "type": "quantitative", "axis": null}, "y": {"datum": -0.118, "type": "quantitative", "axis": null}}},
        {"data": {"name": "one"}, "mark": {"type": "text", "text": ")", "font": "DejaVu Sans", "fontSize": 30, "align": "left", "baseline": "middle", "dx": 60, "color": "black"},
          "encoding": {"x": {"datum": 0, "type": "quantitative", "axis": null}, "y": {"datum": -0.118, "type": "quantitative", "axis": null}}}
      ]
    }
  ],
  "config": {
    "view": {"stroke": "black", "strokeWidth": 2},
    "font": "DejaVu Sans"
  }
}
